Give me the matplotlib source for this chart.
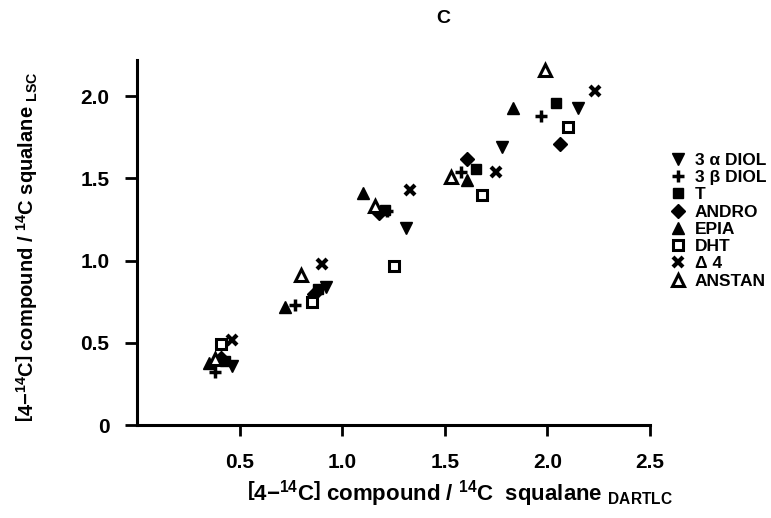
import numpy as np
import matplotlib
matplotlib.use("Agg")
import matplotlib.pyplot as plt

plt.rcParams['font.family'] = ['Liberation Sans', 'DejaVu Sans']
plt.rcParams['font.weight'] = 'bold'
plt.rcParams['axes.labelweight'] = 'bold'
plt.rcParams['mathtext.fontset'] = 'custom'
plt.rcParams['mathtext.rm'] = 'Liberation Sans:bold'
plt.rcParams['mathtext.bf'] = 'Liberation Sans:bold'
plt.rcParams['mathtext.it'] = 'Liberation Sans:bold'

# valeurs (DARTLC en x, LSC en y)
diol3a_x = [0.46, 0.92, 1.31, 1.78, 2.15]
diol3a_y = [0.36, 0.84, 1.20, 1.69, 1.93]
diol3b_x = [0.38, 0.77, 1.22, 1.58, 1.97]
diol3b_y = [0.32, 0.73, 1.30, 1.54, 1.88]
t_x = [0.43, 0.88, 1.21, 1.65, 2.04]
t_y = [0.39, 0.83, 1.31, 1.56, 1.96]
andro_x = [0.41, 0.86, 1.18, 1.61, 2.06]
andro_y = [0.41, 0.80, 1.29, 1.62, 1.71]
epia_x = [0.35, 0.72, 1.10, 1.61, 1.83]
epia_y = [0.38, 0.72, 1.41, 1.49, 1.93]
dht_x = [0.41, 0.85, 1.25, 1.68, 2.10]
dht_y = [0.49, 0.75, 0.97, 1.40, 1.81]
d4_x = [0.46, 0.90, 1.33, 1.75, 2.23]
d4_y = [0.52, 0.98, 1.43, 1.54, 2.03]
anstan_x = [0.38, 0.80, 1.16, 1.53, 1.99]
anstan_y = [0.40, 0.91, 1.33, 1.51, 2.16]

labels = ["3 α DIOL", "3 β DIOL", "T", "ANDRO", "EPIA", "DHT", "Δ 4", "ANSTAN"]
x_ticks = [0.5, 1.0, 1.5, 2.0, 2.5]
y_ticks = [0, 0.5, 1.0, 1.5, 2.0]
y_ticklabels = ["0", "0.5", "1.0", "1.5", "2.0"]

fig = plt.figure(figsize=(7.71, 5.18), dpi=100)
ax = fig.add_axes([0.178, 0.1795, 0.665, 0.7045])

series = [
    (diol3a_x, diol3a_y, dict(marker="v", color="black", ms=8, ls="none")),
    (diol3b_x, diol3b_y, dict(marker="+", color="black", ms=9, mew=2.5, ls="none")),
    (t_x, t_y, dict(marker="s", color="black", ms=7, ls="none")),
    (andro_x, andro_y, dict(marker="D", color="black", ms=7, ls="none")),
    (epia_x, epia_y, dict(marker="^", color="black", ms=8, ls="none")),
    (dht_x, dht_y, dict(marker="s", mfc="white", mec="black", mew=2.2, ms=7, ls="none")),
    (d4_x, d4_y, dict(marker="x", color="black", ms=7, mew=3, ls="none")),
    (anstan_x, anstan_y, dict(marker="^", mfc="white", mec="black", mew=2.2, ms=8, ls="none")),
]

handles = []
for (xs, ys, kw), lab in zip(series, labels):
    h, = ax.plot(xs, ys, label=lab, **kw)
    handles.append(h)

ax.set_xlim(0, 2.5)
ax.set_ylim(0, 2.22)
ax.spines['top'].set_visible(False)
ax.spines['right'].set_visible(False)
ax.spines['left'].set_linewidth(2.2)
ax.spines['bottom'].set_linewidth(2.2)

ax.set_xticks(x_ticks)
ax.set_xticklabels([f"{v:.1f}" for v in x_ticks])
ax.set_yticks(y_ticks)
ax.set_yticklabels(y_ticklabels)
ax.tick_params(axis='x', direction='out', length=8, width=2, pad=12, labelsize=15)
ax.tick_params(axis='y', direction='out', length=9, width=2, pad=11, labelsize=15)

ax.set_xlabel(r"$\left[4\mathrm{-}^{14}\mathrm{C}\right]$ compound / $^{14}$C  squalane $_{\mathrm{DARTLC}}$",
              fontsize=16)
ax.xaxis.set_label_coords(0.63, -0.145)
ax.set_ylabel(r"$\left[4\mathrm{-}^{14}\mathrm{C}\right]$ compound / $^{14}$C squalane $_{\mathrm{LSC}}$",
              fontsize=14.5)
ax.yaxis.set_label_coords(-0.19, 0.49)

fig.text(0.575, 0.965, "C", fontsize=14, fontweight='bold', ha='center', va='center')

fig.legend(handles=handles, loc='upper left', bbox_to_anchor=(0.872, 0.705),
           frameon=False, fontsize=12.5, handlelength=0.7, handletextpad=0.6,
           labelspacing=0.12, borderaxespad=0, borderpad=0)

fig.savefig("out.png", dpi=100)
